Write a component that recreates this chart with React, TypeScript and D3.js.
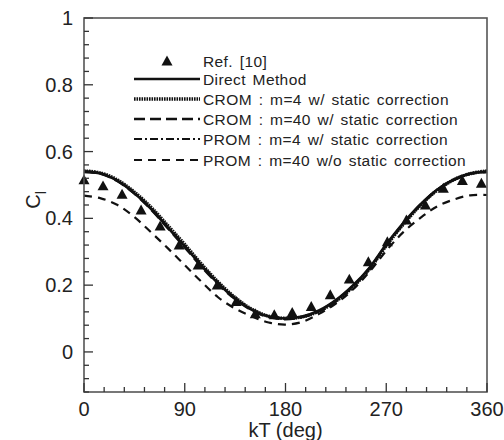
import React from "react";
import * as d3 from "d3";

const kTcurve = [0, 15, 30, 45, 60, 75, 90, 105, 120, 135, 150, 165, 180, 195, 210, 225, 240, 255, 270, 285, 300, 315, 330, 345, 360];
const direct = [0.540, 0.534, 0.512, 0.475, 0.428, 0.372, 0.316, 0.258, 0.205, 0.160, 0.126, 0.106, 0.100, 0.106, 0.124, 0.155, 0.198, 0.252, 0.322, 0.385, 0.440, 0.485, 0.516, 0.534, 0.540];
const crom4 = [0.542, 0.536, 0.515, 0.479, 0.433, 0.378, 0.322, 0.263, 0.209, 0.163, 0.128, 0.107, 0.101, 0.105, 0.122, 0.152, 0.194, 0.248, 0.318, 0.381, 0.437, 0.483, 0.515, 0.534, 0.542];
const crom40 = [0.539, 0.533, 0.511, 0.474, 0.426, 0.370, 0.313, 0.255, 0.202, 0.158, 0.124, 0.104, 0.098, 0.104, 0.121, 0.152, 0.195, 0.249, 0.319, 0.382, 0.438, 0.483, 0.514, 0.533, 0.539];
const prom4 = [0.541, 0.535, 0.513, 0.477, 0.430, 0.375, 0.319, 0.261, 0.207, 0.161, 0.127, 0.106, 0.100, 0.105, 0.123, 0.154, 0.197, 0.251, 0.320, 0.383, 0.439, 0.484, 0.515, 0.534, 0.541];
const prom40wo = [0.468, 0.460, 0.440, 0.404, 0.358, 0.310, 0.260, 0.210, 0.163, 0.130, 0.106, 0.088, 0.082, 0.090, 0.114, 0.145, 0.186, 0.240, 0.303, 0.358, 0.400, 0.435, 0.456, 0.469, 0.470];

const kTref = [0, 17, 34, 51, 68, 85, 102, 119, 136, 153, 170, 186, 203, 220, 237, 254, 271, 288, 305, 321, 338, 355];
const ref10 = [0.515, 0.497, 0.472, 0.425, 0.377, 0.320, 0.260, 0.200, 0.151, 0.114, 0.111, 0.118, 0.136, 0.171, 0.218, 0.270, 0.330, 0.395, 0.440, 0.490, 0.513, 0.505];

const xMajor = [0, 90, 180, 270, 360];
const yMajor = [0, 0.2, 0.4, 0.6, 0.8, 1];
const yMajorLabels = ["0", "0.2", "0.4", "0.6", "0.8", "1"];

const legendLabels = [
  "Ref. [10]",
  "Direct Method",
  "CROM : m=4 w/ static correction",
  "CROM : m=40 w/ static correction",
  "PROM : m=4 w/ static correction",
  "PROM : m=40 w/o static correction",
];

const FONT = "'Liberation Sans', Arial, Helvetica, sans-serif";

export default function App() {
  const W = 504, H = 440;
  const L = 84, R = 487, T = 18, B = 392;
  const x = d3.scaleLinear().domain([0, 360]).range([L, R]);
  const y = d3.scaleLinear().domain([-0.12, 1]).range([B, T]);

  const mk = (vals: number[]) =>
    d3.line<number>()
      .x((_, i) => x(kTcurve[i]))
      .y((v) => y(v))
      .curve(d3.curveCatmullRom)(vals) as string;

  const series = [
    { vals: prom40wo, dash: "8,6", w: 2.2 },
    { vals: crom40, dash: "11,5", w: 2.4 },
    { vals: prom4, dash: "8,3,2,3", w: 2.2 },
    { vals: direct, dash: "", w: 2.6 },
    { vals: crom4, dash: "1.6,0.9", w: 3.4 },
  ];

  const xMinor = d3.range(0, 361, 18);
  const yMinor = d3.range(-0.12, 1.0001, 0.04).map((v) => Math.round(v * 100) / 100);

  const tri = (cx: number, cy: number, s = 5.5) =>
    `M${cx},${cy - s}L${cx + s},${cy + s * 0.8}L${cx - s},${cy + s * 0.8}Z`;

  const legendStyles = [
    null,
    { dash: "", w: 2.6 },
    { dash: "1.6,0.9", w: 3.4 },
    { dash: "11,5", w: 2.4 },
    { dash: "8,3,2,3", w: 2.2 },
    { dash: "8,6", w: 2.2 },
  ];
  const legY = [61, 79, 99, 119, 139, 160];
  const lx0 = 134, lx1 = 200, tx = 203;

  return (
    <svg width={W} height={H} style={{ display: "block", position: "absolute", left: 0, top: 0 }} fontFamily={FONT}>
      <rect width={W} height={H} fill="#fff" />
      {/* curves */}
      <g fill="none" stroke="#111">
        {series.map((s, i) => (
          <path key={i} d={mk(s.vals)} strokeWidth={s.w} strokeDasharray={s.dash || undefined} />
        ))}
      </g>
      {/* ref markers */}
      <g fill="#111">
        {kTref.map((k, i) => (
          <path key={i} d={tri(x(k), y(ref10[i]))} />
        ))}
      </g>
      {/* frame */}
      <rect x={L} y={T} width={R - L} height={B - T} fill="none" stroke="#555" strokeWidth={1.6} />
      {/* ticks */}
      <g stroke="#333" strokeWidth={1.3}>
        {xMinor.map((v) => (
          <line key={"xm" + v} x1={x(v)} x2={x(v)} y1={B} y2={B - (v % 90 === 0 ? 9 : 5)} />
        ))}
        {yMinor.map((v) => (
          <line key={"ym" + v} x1={L} x2={L + (Math.abs(Math.round(v * 100)) % 20 === 0 ? 9 : 5)} y1={y(v)} y2={y(v)} />
        ))}
      </g>
      <g fontSize={20} fill="#222">
        {xMajor.map((v) => (
          <text key={"xl" + v} x={x(v)} y={B + 24} textAnchor="middle">{v}</text>
        ))}
        {yMajor.map((v, i) => (
          <text key={"yl" + v} x={L - 11} y={y(v) + 7} textAnchor="end">{yMajorLabels[i]}</text>
        ))}
        <text x={(L + R) / 2} y={B + 45} textAnchor="middle">kT (deg)</text>
        <g transform={`translate(40,${200}) rotate(-90)`}>
          <text textAnchor="middle" x={0} y={0}>C<tspan fontSize={14} dy={6}>l</tspan></text>
        </g>
      </g>
      {/* legend */}
      <g fontSize={15.5} fill="#222" style={{ wordSpacing: "2px", letterSpacing: "0.4px" }}>
        {legendLabels.map((lab, i) => {
          const st = legendStyles[i];
          return (
            <g key={i}>
              {st ? (
                <line x1={lx0} x2={lx1} y1={legY[i]} y2={legY[i]} stroke="#111" strokeWidth={st.w} strokeDasharray={st.dash || undefined} />
              ) : (
                <path d={tri((lx0 + lx1) / 2, legY[i], 5.5)} fill="#111" />
              )}
              <text x={tx} y={legY[i] + 5.5}>{lab}</text>
            </g>
          );
        })}
      </g>
    </svg>
  );
}
